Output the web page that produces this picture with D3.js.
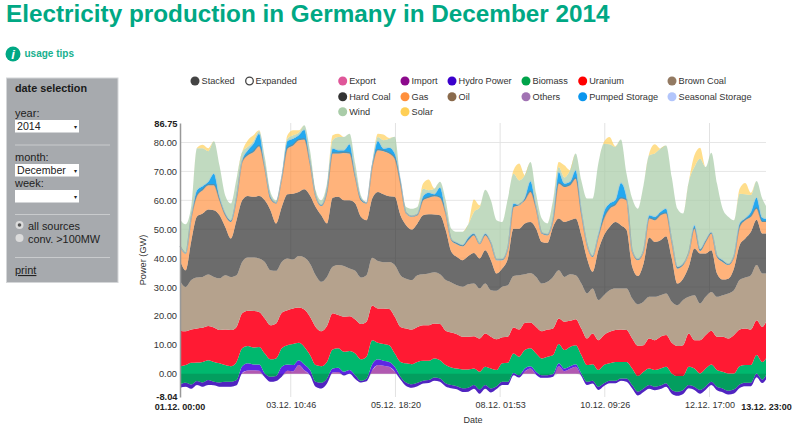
<!DOCTYPE html>
<html><head><meta charset="utf-8">
<script src="https://cdnjs.cloudflare.com/ajax/libs/d3/7.8.5/d3.min.js"></script>
<style>html,body{margin:0;padding:0;background:#fff}svg{display:block}text{font-family:"Liberation Sans",Arial,sans-serif}</style>
</head><body><svg id="c" width="799" height="425"></svg>
<script>
// Upper edge of each stacked band in GW, read every three hours from the picture.
const netExchange=[-4.8,-4.5,-5.2,-3.9,-4.5,-3.9,-4,-4.5,-4.5,-4.5,-4,.3,1.1,1.2,1,-1.2,-2.8,-2.5,-1,1,.8,3,1.2,-.5,-4.5,-5.1,-3.4,
.4,.6,-.6,0,-1.8,-3,-2.6,1.2,3,2.8,2.4,.8,-2,-4.2,-4.8,-4.3,-3.4,-3.2,-2.4,-2.8,-4.4,-5,-5.4,-6.3,-6.2,-5.2,
-6.9,-5.2,-6.5,-5.3,-3.9,-3.9,-.5,-1.3,.8,1.8,-.3,-1.4,-1.4,-1,2.6,.9,1.7,2.4,-.8,-3.9,-3.4,-5.6,-4.2,-3.3,-3.3,-2.4,
-2.8,-5.1,-7.5,-6.3,-5.2,-5.7,-5.3,-4.5,-6.9,-7.6,-7,-5,-5.6,-6.9,-5.5,-3.9,-5.7,-6.4,-7.2,-6.8,-4.9,-4.3,-4.3,-1.2,-3.2,-2];
const hydroTop=[-3.6,-3.1,-3.7,-2.5,-3,-2.2,-2.8,-3,-2.8,-2.8,-2.2,2.6,3.6,3.2,3.2,.1,-1,-.8,2.4,3.2,3,4.7,3.2,1.3,-2.8,-3.1,-1.6,
1.8,2.1,.7,1.3,-.5,-2.4,-1.6,3.3,5,4.5,4.1,2.4,-1,-3,-3.6,-3.1,-2.4,-2.2,-1.3,-1.6,-3.3,-3.9,-4.3,-5,-4.8,-3.9,
-5.4,-3.9,-5.1,-4.3,-2.8,-2.8,.3,-.5,1.8,2.6,.7,-.5,-.5,-.1,3.6,1.8,2.6,3.3,.1,-2.8,-2.4,-4.5,-3.3,-2.4,-2.4,-1.6,
-1.6,-3.9,-6.2,-5.1,-3.9,-4.5,-4.1,-3.3,-5.6,-6.2,-5.6,-3.9,-4.5,-5.6,-4.3,-2.8,-4.5,-5.1,-5.9,-5.4,-3.7,-3.1,-3.1,.1,-2,-.5];
const biomassTop=[2.6,3,3.8,3.9,4.1,4.7,4.1,3.6,3,2.6,4.1,8.8,9.6,9.1,9.3,7,5,5.3,8.8,9.9,10.3,10.7,9.3,6.5,3,2.6,4.1,
8.4,8.8,7.6,7.9,7,5,5.9,11.6,10.7,10.3,9.9,7,4.1,3.6,3.3,4.1,4.5,4.5,5.3,4.7,3,2.2,1.8,1.5,1.5,1.8,
.7,2.4,1.8,1.3,3.6,3.8,7,5.9,8.2,8.8,7,5.3,5.9,6.5,10.3,8.2,9.3,9.9,6.5,3,3.3,1.3,3,3.6,4.1,4.1,
4.1,1.8,-.8,.7,1.8,1.3,1.8,2.4,.1,-.8,-.8,2.4,1.8,.1,1.8,3.2,1.3,.7,.1,.1,2.6,3,3,6.5,4.1,5.3];
const uraniumTop=[14.9,14.7,15.3,15.7,15.9,16.5,16,15.1,15.3,15.1,16.2,20.9,21.8,21.7,21.4,19.1,16.8,17.4,21.1,22,22.6,22.9,22.2,19.7,16.2,14.7,16.5,
20.9,20.3,19.7,19.9,18.8,17.2,18,23.6,22.6,22.6,22.4,19.7,16.2,15.7,15.3,16.2,16.8,16.8,17.4,17.2,14.9,14.3,13.7,12.8,12.8,13,
12.2,13.9,12.8,11.9,12.6,12.8,16,15.3,17.6,17.7,16.2,14.7,15.3,15.7,19.1,18,18.3,18.9,15.7,12.2,13.9,11.6,13.4,14.5,15.1,15.3,
15.1,12.2,9.7,9.9,12.2,11.6,12.8,13.4,10.7,9.6,9.9,13.9,11.6,11.6,13.4,14.9,12.8,12.8,12.2,13.4,15.3,15.7,15.3,18.5,16.2,18];
const brownCoalTop=[32.1,30,32.4,33.3,33.5,34.3,33.5,33,34.1,33.5,34.1,38.7,40.2,40.2,39.9,38.7,35.8,35.6,38.7,39.9,39.5,40.7,40.2,38.1,34.1,31.8,33.5,
37,37.6,37.3,36.4,35.6,33.3,34.1,40.1,39,38.6,38.7,37.6,34.1,32.9,32.4,34.1,34.4,34.7,35.1,34.4,32.4,31.6,30.6,30.1,31,31.2,
29.5,31.2,28.9,28.7,30.1,30.6,33.8,34.1,34.4,34.9,33.5,31.2,31.8,33.5,35.8,33.5,34.4,34.1,31.2,27.8,29.5,25.5,27.2,28.9,29.5,29.5,
29.5,26,24,24.9,26.6,26.6,27.2,27.8,24.9,23.7,25.5,26.6,27.2,24.3,26.6,28.3,26.6,27.2,27.8,28.9,32.4,33.3,34.1,37.6,34.7,34.7];
const hardCoalTop=[39.3,35.8,46,54.4,55.4,56.8,56.6,54.8,50.8,46.8,53.1,60,61.5,61.2,61.5,60,56.6,52,57.7,62.1,62.3,62.9,63.8,61.7,57.7,54.8,52,
60.9,61.2,60,60,58.9,54.3,53.1,60.6,62.9,62.1,61.4,61.2,54.8,51.4,49.9,52,54.8,55.2,55.1,54.8,49.7,42.2,40.4,39.3,40.7,41.8,
39.9,42.7,39.3,34.7,36.4,39.9,50.2,50.2,52,52.5,50.2,45.6,45.3,50.8,53.7,52.5,53.1,53.7,47.9,39.9,35.3,42.7,47.9,50.8,52.5,51.4,
49.7,37,33.8,38.1,47.1,45.6,46.2,47.6,39.9,31.2,32.9,37,43.3,41.6,41.6,42.7,34.7,32.6,32.9,36.4,44.5,46.8,49.1,53.3,48.5,48.5];
const gasTop=[43.9,41.5,54,61.5,63.5,65.2,65.2,60,54.8,52.5,60.6,73.3,75.6,76.7,78.7,71,60.6,58.9,67.5,77.9,79,80.8,81,72.7,61.2,58,62.9,
76.2,76.2,76.4,76.2,68,60,58.9,71.5,77.3,77,76.2,74.4,65.8,55.4,54.3,54.8,60,60.9,61.4,60.9,55.4,46.2,44.8,44.1,46.2,47.9,
44.8,47.9,45,39.3,39.3,43.3,57.7,58.3,60,62.9,57.1,48.5,47.9,53.1,65.8,64.6,65.2,67.5,55.4,44.5,40.4,47.3,53.7,57.1,58.3,60.6,
60,42.2,39.3,42.2,53.7,53.1,54.8,55.4,45.6,36.4,37.6,41.6,50.2,42.5,45.6,48.5,40.4,38.7,37.6,40.4,50.8,53.1,54.3,57.1,52.5,52.5];
const pumpedTop=[44,41.6,54.2,63.5,64.9,66.4,69.2,61,55.4,53,61,73.8,77.3,79.6,83,71.5,61.2,59.1,67.8,80.5,81.3,82.5,84.4,73.3,61.4,58.3,63.5,
77.9,77.3,77.3,79.4,68.6,60.6,59.1,72,80.5,77.9,78.2,76.2,66.9,55.6,54.5,55.1,61.4,62.6,62.1,64.4,56,46.4,45.3,44.5,47.1,48.5,
45,48.5,45.3,39.5,39.6,43.5,58.9,58.3,60.9,66.6,57.7,48.7,48.2,53.7,69.8,65.8,66.4,70.4,56.3,44.7,40.7,47.9,56,58.9,60,66,
61,42.4,39.6,42.4,54.8,54.3,56,57.1,45.9,37,38,41.6,51.4,43.1,46.2,48.9,40.8,39.3,37.9,40.7,52,53.8,56,60.9,54,53.6];
const windTop=[53.4,51.7,58,78,78,77,80.4,72,61.7,58.9,67.5,76.7,78.5,80.5,84,75,62.9,60,68,81.3,82.5,83.4,86,77.3,63.5,60,65.8,
80.8,81.9,81.9,83,72.7,61.7,59.4,72.7,81.9,80.8,81.3,82,66.9,57.7,57.1,57.7,64,63.5,64,66.4,60,50.2,49.1,49.1,51.7,56,
57.5,63.7,60,53.1,52.5,60.6,69.2,66.9,68.7,73.3,62.3,53.7,52,60,71.5,67.9,70.4,76.2,66.9,60.6,60.6,72.7,79.6,79.4,78.5,81,
69.2,60.6,57.1,65.2,75.6,76.2,77.9,79,68,57.1,55.4,66.4,71.5,74.4,71.5,76.5,65.8,57.1,54.3,53.1,62.3,62.1,61.8,66.7,60.6,58];
const solarTop=[53.4,51.7,58,78.2,79.2,78,80.4,72,61.7,58.9,67.5,76.7,80.8,82.5,84.2,75,62.9,60,68,82.5,84.2,84.2,86,77.3,63.5,60,65.8,
82.5,83,81.9,83,72.7,61.7,59.4,72.7,83,82.8,81.6,82,66.9,57.7,57.1,57.7,65.8,67.2,64.1,66.4,60,50.2,49.1,49.1,51.7,60.3,
58.3,63.7,60,53.1,52.5,60.6,70.4,72.7,68.7,73.3,62.3,53.7,52,60,73.3,72.1,70.4,76.2,66.9,60.6,60.6,72.7,80.2,81.9,78.7,81,
69.2,60.6,57.1,65.2,76.2,79.4,77.9,79,68,57.1,55.4,66.4,75.6,78.2,71.5,76.5,65.8,57.1,54.3,53.1,64,66,62.6,66.7,60.6,58];
const startTime=Date.UTC(2014,11,1,0,0), hourMs=3600e3;
const hours=[...d3.range(0,312,3),311];
const yTicks=[0,10,20,30,40,50,60,70,80], yMin=-8.04, yMax=86.75;
const xTickHours=[58.77,114.34,169.89,225.44,281];
const legendRows=[
 [["Export","#df5699"],["Import","#8c0a8c"],["Hydro Power","#3b00cc"],["Biomass","#00a34a"],["Uranium","#ff0000"],["Brown Coal","#937a62"]],
 [["Hard Coal","#333333"],["Gas","#ff8f3c"],["Oil","#8a6a4b"],["Others","#a173b3"],["Pumped Storage","#0a96ee"],["Seasonal Storage","#b2c5fb"]],
 [["Wind","#a9cca8"],["Solar","#ffcf55"]]];

const svg=d3.select("#c");
const teal="#00a884", t=d=>new Date(startTime+d*hourMs);
const x=d3.scaleUtc().domain([t(0),t(311)]).range([180,766]);
const y=d3.scaleLinear().domain([yMin,yMax]).range([397,123]);
const T=(s,px,py,o={})=>svg.append("text").attr("x",px).attr("y",py).attr("font-size",o.size||9.2).attr("font-weight",o.bold?700:400).attr("fill",o.fill||"#333").attr("text-anchor",o.anchor||"start").text(s);

T("Electricity production in Germany in December 2014",6,22,{size:24.3,bold:1,fill:teal});
svg.append("circle").attr("cx",13).attr("cy",54).attr("r",7.5).attr("fill",teal);
T("i",13,58.5,{size:13,bold:1,fill:"#fff",anchor:"middle"}).attr("font-style","italic");
T("usage tips",24.5,57,{size:10,bold:1,fill:"#16b08e"});

// side panel
svg.append("rect").attr("x",6.5).attr("y",78).attr("width",111.5).attr("height",204.5).attr("fill","#a7aaae").attr("stroke","#d4d6d8");
T("date selection",15,91.5,{size:10.8,bold:1,fill:"#1a1a1a"});
T("year:",15,117,{size:11,fill:"#222"});
T("month:",15,161,{size:11,fill:"#222"});
T("week:",15,187,{size:11,fill:"#222"});
[[120,"2014"],[164,"December"],[190,""]].forEach(([yy,s])=>{
 svg.append("rect").attr("x",15).attr("y",yy).attr("width",64).attr("height",12.5).attr("fill","#fff");
 T(s,17,yy+10,{size:10.6,fill:"#222"});
 T("▾",75,yy+9,{size:6,fill:"#222",anchor:"middle"});
});
[145,214.5,257.5].forEach(yy=>svg.append("line").attr("x1",15).attr("x2",110).attr("y1",yy).attr("y2",yy).attr("stroke","#c9cbcd"));
[225,238].forEach((yy,i)=>{svg.append("circle").attr("cx",19.5).attr("cy",yy).attr("r",4).attr("fill","#dcdcdc");
 if(!i)svg.append("circle").attr("cx",19.5).attr("cy",yy).attr("r",1.8).attr("fill","#555");});
T("all sources",28,230,{size:10.9,fill:"#222"});
T("conv. >100MW",28,243,{size:10.9,fill:"#222"});
T("print",15,274,{size:11,fill:"#222"}).attr("text-decoration","underline");

// grid
const tickDates=xTickHours.map(t);
svg.append("g").selectAll("line").data(yTicks).join("line").attr("x1",180).attr("x2",766).attr("y1",y).attr("y2",y).attr("stroke","#e6e6e6");
svg.append("g").selectAll("line").data(tickDates).join("line").attr("x1",x).attr("x2",x).attr("y1",123).attr("y2",397).attr("stroke","#e2e2e2");

// stacked bands
const pts=hours.map((h,i)=>({date:t(h),i}));
const band=(lo,hi)=>d3.area().curve(d3.curveMonotoneX).x(d=>x(d.date)).y0(d=>y(lo(d.i))).y1(d=>y(hi(d.i)));
const at=a=>i=>a[i];
const layers=[
 [()=>0,i=>Math.max(0,netExchange[i]),"#8c0a8c",.68],
 [at(netExchange),at(hydroTop),"#5a22e2",.98],
 [at(hydroTop),at(biomassTop),"#00b86e",1],
 [at(biomassTop),at(uraniumTop),"#ff1a33",1],
 [at(uraniumTop),at(brownCoalTop),"#b5a28d",1],
 [at(brownCoalTop),at(hardCoalTop),"#333333",.72],
 [at(hardCoalTop),at(gasTop),"#ff8f3c",.68],
 [at(gasTop),at(pumpedTop),"#0a9fee",.9],
 [at(pumpedTop),at(windTop),"#a9cca8",.72],
 [at(windTop),at(solarTop),"#ffcf55",.68]];
layers.forEach(([lo,hi,c,o])=>svg.append("path").datum(pts).attr("d",band(lo,hi)).attr("fill",c).attr("fill-opacity",o));
// oil, others and seasonal storage are hair-thin at this scale
const edge=(a,dy)=>d3.line().curve(d3.curveMonotoneX).x(d=>x(d.date)).y(d=>y(a[d.i])+dy);
svg.append("path").datum(pts).attr("d",edge(gasTop,-.7)).attr("fill","none").attr("stroke","#8a7a6a").attr("stroke-opacity",.55).attr("stroke-width",1.3);
svg.append("path").datum(pts).attr("d",edge(pumpedTop,-.3)).attr("fill","none").attr("stroke","#9cc8e0").attr("stroke-opacity",.8).attr("stroke-width",.8);
// export darkens everything drawn below zero
svg.append("path").datum(pts).attr("d",band(()=>0,i=>Math.min(0,netExchange[i]))).attr("fill","#12201a").attr("fill-opacity",.17);

// axes
const yAxis=d3.axisLeft(y).tickValues(yTicks).tickFormat(d=>d.toFixed(2)).tickSize(0).tickPadding(3);
const gy=svg.append("g").attr("transform","translate(180,0)").call(yAxis);
gy.select(".domain").attr("stroke","#999").attr("stroke-width",1.5);
gy.selectAll("text").attr("font-size",9.3).attr("fill","#333").attr("font-family",null);
const xAxis=d3.axisBottom(x).tickValues(tickDates).tickFormat(d3.utcFormat("%d.%m. %H:%M")).tickSize(0).tickPadding(5);
const gx=svg.append("g").attr("transform","translate(0,397)").call(xAxis);
gx.select(".domain").remove();
gx.selectAll("text").attr("font-size",9).attr("fill","#333").attr("font-family",null);
T("86.75",177.5,126.5,{size:9.3,bold:1,anchor:"end",fill:"#222"});
T("-8.04",177.5,400,{size:9.3,bold:1,anchor:"end",fill:"#222"});
T("01.12. 00:00",180,410,{size:9,bold:1,anchor:"middle",fill:"#222"});
T("13.12. 23:00",766.5,410,{size:9,bold:1,anchor:"middle",fill:"#222"});
T("Date",473,423,{size:9,anchor:"middle",fill:"#333"});
T("Power (GW)",0,0,{anchor:"middle",fill:"#333"}).attr("transform","translate(146,260) rotate(-90)");

// legends
const lx=[342.7,405,452,526,582.7,672], ly=[81,96.7,111.7];
legendRows.forEach((row,r)=>row.forEach(([n,c],i)=>{
 svg.append("circle").attr("cx",lx[i]).attr("cy",ly[r]).attr("r",4.5).attr("fill",c);
 T(n,lx[i]+6.5,ly[r]+3.4,{fill:"#333"});
}));
svg.append("circle").attr("cx",195).attr("cy",81).attr("r",4.5).attr("fill","#444");
T("Stacked",201.5,84.4,{fill:"#333"});
svg.append("circle").attr("cx",249.5).attr("cy",81).attr("r",3.8).attr("fill","#fff").attr("stroke","#444").attr("stroke-width",1.3);
T("Expanded",255.5,84.4,{fill:"#333"});
</script></body></html>
